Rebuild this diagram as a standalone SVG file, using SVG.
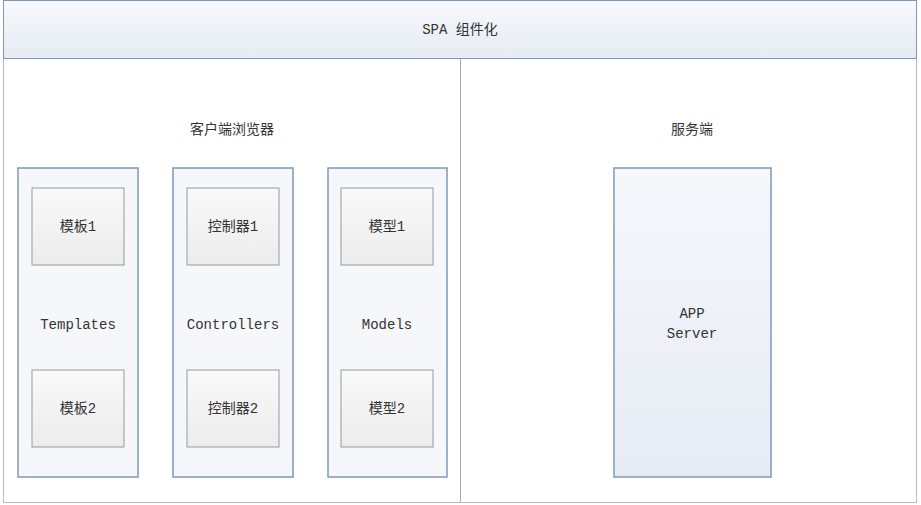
<svg xmlns="http://www.w3.org/2000/svg" width="921" height="505" viewBox="0 0 921 505">
<defs>
<linearGradient id="hg" x1="0" y1="0" x2="0" y2="1"><stop offset="0" stop-color="#f6f8fc"/><stop offset="1" stop-color="#e6ebf3"/></linearGradient>
<linearGradient id="ig" x1="0" y1="0" x2="0" y2="1"><stop offset="0" stop-color="#f9f9f9"/><stop offset="1" stop-color="#ececec"/></linearGradient>
</defs>
<style>
text{font-family:"Liberation Mono","Noto Sans CJK SC",monospace;font-size:14px;fill:#333;text-anchor:middle}
.col{fill:#f5f7fb;stroke:#7e98bb;stroke-width:1.5}
.in{fill:url(#ig);stroke:#999;stroke-width:1}
</style>
<g id="frame">
<rect x="3.5" y="0.5" width="913" height="502" fill="#fff" stroke="#bbb"/>
<rect x="3.5" y="0.5" width="913" height="58" fill="url(#hg)" stroke="#7e98bb"/>
<text x="460" y="34">SPA 组件化</text>
<line x1="460.5" y1="59" x2="460.5" y2="502" stroke="#aaa"/>
<text x="232" y="134">客户端浏览器</text>
<text x="692" y="134">服务端</text>
</g>
<g id="templates"><rect class="col" x="18" y="168" width="120" height="309"/><text x="78" y="329">Templates</text></g>
<g id="t1"><rect class="in" x="32" y="188" width="92" height="77"/><text x="78" y="231">模板1</text></g>
<g id="t2"><rect class="in" x="32" y="370" width="92" height="77"/><text x="78" y="413">模板2</text></g>
<g id="controllers"><rect class="col" x="173" y="168" width="120" height="309"/><text x="233" y="329">Controllers</text></g>
<g id="c1"><rect class="in" x="187" y="188" width="92" height="77"/><text x="233" y="231">控制器1</text></g>
<g id="c2"><rect class="in" x="187" y="370" width="92" height="77"/><text x="233" y="413">控制器2</text></g>
<g id="models"><rect class="col" x="328" y="168" width="119" height="309"/><text x="387" y="329">Models</text></g>
<g id="m1"><rect class="in" x="341" y="188" width="92" height="77"/><text x="387" y="231">模型1</text></g>
<g id="m2"><rect class="in" x="341" y="370" width="92" height="77"/><text x="387" y="413">模型2</text></g>
<g id="app"><rect x="614" y="168" width="157" height="309" fill="url(#hg)" stroke="#7e98bb" stroke-width="1.5"/><text x="692" y="318">APP</text><text x="692" y="338">Server</text></g>
<g id="connectors"/>
</svg>
